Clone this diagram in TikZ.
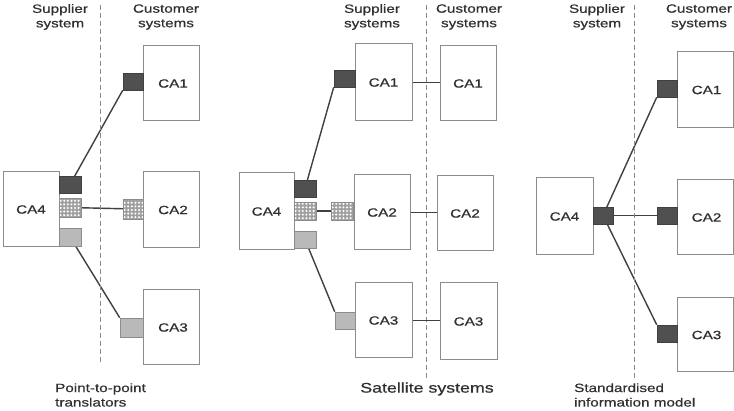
\documentclass[tikz,border=0pt]{standalone}
\usepackage{fontspec}
\setmainfont{Liberation Sans}
\newfontfamily\lblfont[FakeStretch=1.27,FakeBold=0.6]{Liberation Sans}
\usetikzlibrary{backgrounds,calc}
\definecolor{txt}{HTML}{303030}
\definecolor{boxc}{HTML}{8C8C8C}
\definecolor{linec}{HTML}{404040}
\definecolor{sqdark}{HTML}{505050}
\definecolor{sqlight}{HTML}{B9B9B9}
\definecolor{checkbg}{HTML}{A0A0A0}
\definecolor{divc}{HTML}{8A8A8A}
\pgfdeclarelayer{lines}
\pgfsetlayers{background,lines,main}
\begin{document}
\begin{tikzpicture}[x=1pt,y=-1pt,
  lbl/.style={font=\lblfont\fontsize{12}{14.5}\selectfont, text=txt, align=center, inner sep=0pt},
  box/.style={draw=boxc, line width=1pt, fill=white, minimum width=56pt, minimum height=76pt, inner sep=0pt, font=\lblfont\fontsize{12}{14}\selectfont, text=txt},
  sqd/.style={draw=linec, fill=sqdark, line width=0.6pt, minimum width=21pt, minimum height=17pt, inner sep=0pt},
  sql/.style={draw=boxc, fill=sqlight, line width=0.6pt, minimum width=21pt, minimum height=17pt, inner sep=0pt},
  sqc/.style={draw=boxc, fill=checkbg, line width=0.6pt, minimum width=21pt, minimum height=19pt, inner sep=0pt,
    path picture={\foreach \i in {0,...,6}{\foreach \j in {0,...,5}{
      \fill[white] ($(path picture bounding box.south west)+(\i*3.6pt+1.6pt,\j*3.6pt+1.8pt)$) circle[radius=1.15pt];}}}},
  conn/.style={draw=linec, line width=1.4pt},
  divider/.style={draw=divc, line width=0.9pt, dash pattern=on 5pt off 3pt}]
\begin{pgfonlayer}{background}
\fill[white] (0,0) rectangle (734,411);
\end{pgfonlayer}
\useasboundingbox (0,0) rectangle (734,411);

% ---------- Panel 1: point-to-point translators ----------
\draw[divider] (100,5) -- (100,363);
\node[lbl] (p1sup) at (60,17) {Supplier\\system};
\node[lbl] (p1cus) at (166,17) {Customer\\systems};
\node[lbl, align=left, anchor=west] (p1cap) at (55,395) {Point-to-point\\translators};

\node[box, minimum height=75pt] (p1ca4) at (31,209.5) {CA4};
\node[sqd, minimum width=22pt] (p1a) at (70,184.5) {};
\node[sqc, minimum width=22pt] (p1b) at (70,207.5) {};
\node[sql, minimum width=22pt, minimum height=18pt] (p1c) at (70,237) {};

\node[box, minimum height=75pt] (p1ca1) at (171.5,83.5) {\hspace*{3pt}CA1};
\node[sqd, minimum width=20pt] (p1q1) at (133,81.5) {};
\node[box] (p1ca2) at (171.5,210) {\hspace*{3pt}CA2};
\node[sqc, minimum width=20pt, minimum height=20pt] (p1q2) at (133,209) {};
\node[box, minimum height=75pt] (p1ca3) at (171.5,327.5) {\hspace*{3pt}CA3};
\node[sql, minimum width=23pt, minimum height=19pt] (p1q3) at (131.5,327.5) {};

\begin{pgfonlayer}{lines}
\draw[conn] (p1a.center) -- (p1q1.south west);
\draw[conn] (p1b.center) -- (p1q2.center);
\draw[conn] (p1c.center) -- (p1q3.north west);
\end{pgfonlayer}

% ---------- Panel 2: satellite systems ----------
\draw[divider] (426,5) -- (426,378);
\node[lbl] (p2sup) at (372,17) {Supplier\\systems};
\node[lbl] (p2cus) at (469,17) {Customer\\systems};
\node[lbl, font=\lblfont\fontsize{14}{16}\selectfont] (p2cap) at (427,389) {Satellite systems};

\node[box, minimum width=55pt, minimum height=77pt] (p2ca4) at (266.5,211.5) {CA4};
\node[sqd, minimum width=22pt] (p2a) at (305,188.5) {};
\node[sqc, minimum width=22pt, minimum height=18pt] (p2b) at (305,211) {};
\node[sql, minimum width=22pt] (p2c) at (305,239.5) {};

\node[box, minimum width=57pt, minimum height=77pt] (p2s1) at (383.5,82.5) {CA1};
\node[sqd] (p2q1) at (344.5,78.5) {};
\node[box, minimum height=75pt] (p2c1) at (468,83.5) {CA1};

\node[box, minimum height=75pt] (p2s2) at (382,212.5) {CA2};
\node[sqc, minimum width=22pt, minimum height=18pt] (p2q2) at (342,211) {};
\node[box, minimum height=75pt] (p2c2) at (465,213.5) {CA2};

\node[box, minimum width=57pt, minimum height=75pt] (p2s3) at (383.5,320.5) {CA3};
\node[sql, minimum width=20pt] (p2q3) at (345,320.5) {};
\node[box, minimum width=57pt, minimum height=77pt] (p2c3) at (468.5,321.5) {CA3};

\begin{pgfonlayer}{lines}
\draw[conn] (p2a.center) -- (p2q1.south west);
\draw[conn] (p2b.center) -- (p2q2.center);
\draw[conn] (p2c.center) -- (p2q3.north west);
\end{pgfonlayer}
\draw[conn] (p2s1.east) -- (p2s1.east -| p2c1.west);
\draw[conn] (p2s2.east) -- (p2s2.east -| p2c2.west);
\draw[conn] (p2s3.east) -- (p2s3.east -| p2c3.west);

% ---------- Panel 3: standardised information model ----------
\draw[divider] (634,5) -- (634,380);
\node[lbl] (p3sup) at (597,17) {Supplier\\system};
\node[lbl] (p3cus) at (699,17) {Customer\\systems};
\node[lbl, align=left, anchor=west] (p3cap) at (574,395) {Standardised\\information model};

\node[box, minimum width=57pt, minimum height=77pt] (p3ca4) at (564.5,216.5) {CA4};
\node[sqd, minimum width=20pt] (p3sq) at (603,215.5) {};

\node[box] (p3ca1) at (705,90) {\hspace*{3pt}CA1};
\node[sqd, minimum width=20pt] (p3q1) at (667,88.5) {};
\node[box, minimum height=75pt] (p3ca2) at (705,217.5) {\hspace*{3pt}CA2};
\node[sqd, minimum width=20pt] (p3q2) at (667,215.5) {};
\node[box, minimum height=74pt] (p3ca3) at (705,335) {\hspace*{3pt}CA3};
\node[sqd, minimum width=20pt] (p3q3) at (667,333.5) {};

\begin{pgfonlayer}{lines}
\draw[conn] (p3sq.center) -- (p3q1.south west);
\draw[conn] (p3sq.center) -- (p3q2.center);
\draw[conn] (p3sq.center) -- (p3q3.north west);
\end{pgfonlayer}
\end{tikzpicture}
\end{document}
